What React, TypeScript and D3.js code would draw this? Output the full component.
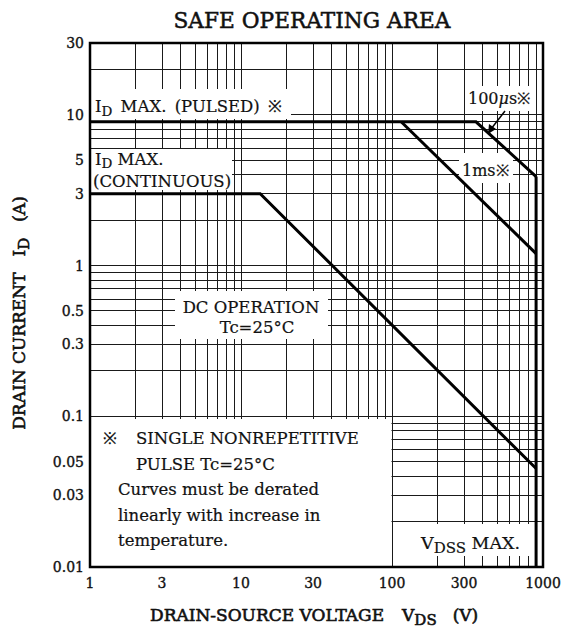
import React from "react";
import * as d3 from "d3";

const xTicks = [1, 3, 10, 30, 100, 300, 1000];
const yTicks = [0.01, 0.03, 0.05, 0.1, 0.3, 0.5, 1, 3, 5, 10, 30];
const yTickLabels = ["0.01", "0.03", "0.05", "0.1", "0.3", "0.5", "1", "3", "5", "10", "30"];

// Safe operating area boundaries [V, A]
const pulse100us: [number, number][] = [[1, 9], [360, 9], [900, 3.9]];
const pulse1ms: [number, number][] = [[115, 9], [900, 1.2]];
const dcOperation: [number, number][] = [[1, 3], [13.4, 3], [900, 0.045]];
const vdssMax: [number, number][] = [[900, 3.9], [900, 0.01]];

const xGrid: number[] = [];
[1, 10, 100].forEach((d) => { for (let k = 1; k <= 9; k++) xGrid.push(d * k); });
xGrid.push(1000);
const yGrid: number[] = [];
[0.01, 0.1, 1].forEach((d) => { for (let k = 1; k <= 9; k++) yGrid.push(+(d * k).toPrecision(3)); });
yGrid.push(10, 20, 30);

const FONT = "'DejaVu Serif', 'Liberation Serif', serif";

export default function App() {
  const W = 562, H = 630;
  const x = d3.scaleLog().domain([1, 1000]).range([90, 543]);
  const y = d3.scaleLog().domain([0.01, 30]).range([567, 43]);
  const line = d3.line<[number, number]>().x((d) => x(d[0])).y((d) => y(d[1]));

  const boxes = [
    [91, 89, 291, 119],
    [91, 149, 232, 190],
    [466, 86, 535, 111],
    [459, 153, 513, 183],
    [175, 291, 328, 339],
    [91, 419, 391.5, 566],
    [393, 524, 532, 556],
  ];

  const heavy = { stroke: "#111", strokeWidth: 0.35 };

  return (
    <svg width={W} height={H} style={{ position: "absolute", left: 0, top: 0, background: "#fff" }} fontFamily={FONT}>
      <rect x={0} y={0} width={W} height={H} fill="#fff" />
      <text x={312} y={28} textAnchor="middle" fontSize={21.7} fill="#111" stroke="#111" strokeWidth={0.5}>SAFE OPERATING AREA</text>
      <g stroke="#1a1a1a" strokeWidth={1} shapeRendering="crispEdges">
        {xGrid.map((v) => (
          <line key={"vx" + v} x1={x(v)} x2={x(v)} y1={y(30)} y2={y(0.01)} />
        ))}
        {yGrid.map((v) => (
          <line key={"hy" + v} x1={x(1)} x2={x(1000)} y1={y(v)} y2={y(v)} />
        ))}
      </g>
      {boxes.map((b, i) => (
        <rect key={"b" + i} x={b[0]} y={b[1]} width={b[2] - b[0]} height={b[3] - b[1]} fill="#fff" />
      ))}
      <g fill="none" stroke="#000" strokeWidth={3} strokeLinejoin="miter">
        <path d={line(pulse100us) || ""} />
        <path d={line(pulse1ms) || ""} />
        <path d={line(dcOperation) || ""} />
        <path d={line(vdssMax) || ""} />
      </g>
      <rect x={x(1)} y={y(30)} width={x(1000) - x(1)} height={y(0.01) - y(30)} fill="none" stroke="#000" strokeWidth={2.5} />
      {/* arrow for 100us */}
      <line x1={505} y1={111} x2={491} y2={129} stroke="#000" strokeWidth={1.5} />
      <path d="M 488 134 L 489 124 L 496 129 Z" fill="#000" />
      <g fill="#111" fontSize={14} {...heavy}>
        {yTicks.map((v, i) => (
          <text key={"yt" + v} x={84} y={y(v) + 5} textAnchor="end">{yTickLabels[i]}</text>
        ))}
        {xTicks.map((v) => (
          <text key={"xt" + v} x={x(v)} y={588} textAnchor="middle">{v}</text>
        ))}
      </g>
      <g fill="#111" fontSize={16.5} stroke="#111" strokeWidth={0.2}>
        <text x={95} y={112} wordSpacing={3}>I<tspan fontSize={13.5} dy={4}>D</tspan><tspan dy={-4}> MAX. (PULSED) ※</tspan></text>
        <text x={95} y={165}>I<tspan fontSize={13.5} dy={3}>D</tspan><tspan dy={-3}> MAX.</tspan></text>
        <text x={93} y={187}>(CONTINUOUS)</text>
        <text x={468} y={104} fontSize={16}>100<tspan fontStyle="italic">μ</tspan>s※</text>
        <text x={462} y={176} fontSize={16}>1ms※</text>
        <text x={251} y={313} textAnchor="middle" fontSize={16.5}>DC OPERATION</text>
        <text x={257} y={333} textAnchor="middle" fontSize={16.5}>Tc=25°C</text>
        <text x={103} y={444}>※</text>
        <text x={136} y={444}>SINGLE NONREPETITIVE</text>
        <text x={136} y={470}>PULSE Tc=25°C</text>
        <text x={118} y={495}>Curves must be derated</text>
        <text x={118} y={521}>linearly with increase in</text>
        <text x={118} y={546}>temperature.</text>
        <text x={421} y={549} fontSize={17.5}>V<tspan fontSize={15} dy={4}>DSS</tspan><tspan dy={-4}> MAX.</tspan></text>
      </g>
      <text x={150} y={621} fontSize={17} fill="#111" stroke="#111" strokeWidth={0.6}>DRAIN-SOURCE VOLTAGE<tspan dx={18}>V</tspan><tspan fontSize={15} dy={4}>DS</tspan><tspan dy={-4} dx={16}>(V)</tspan></text>
      <text transform="translate(25,313) rotate(-90)" textAnchor="middle" fontSize={17} fill="#111" stroke="#111" strokeWidth={0.6}>DRAIN CURRENT<tspan dx={16}>I</tspan><tspan fontSize={15} dy={4}>D</tspan><tspan dy={-4} dx={16}>(A)</tspan></text>
    </svg>
  );
}
